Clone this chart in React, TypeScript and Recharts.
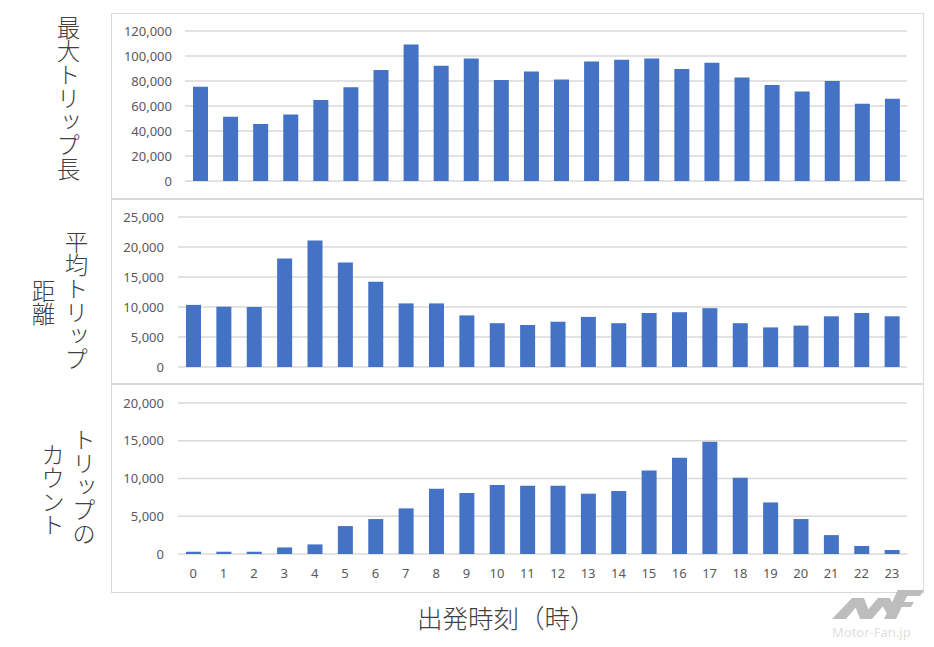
import React from 'react'
import { BarChart, Bar, XAxis, YAxis, CartesianGrid } from 'recharts'

// departure hour (0-23)
const hours = ['0', '1', '2', '3', '4', '5', '6', '7', '8', '9', '10', '11', '12', '13', '14', '15', '16', '17', '18', '19', '20', '21', '22', '23']

const maxTripLength = [75400, 51400, 45600, 53300, 64800, 75000, 88800, 109300, 92300, 98000, 80800, 87700, 81300, 95700, 97000, 98000, 89600, 94700, 82900, 76800, 71700, 80000, 61900, 65900]
const avgTripDistance = [10350, 10050, 10000, 18100, 21100, 17400, 14200, 10600, 10600, 8600, 7300, 7000, 7550, 8350, 7300, 9000, 9130, 9800, 7300, 6600, 6900, 8450, 9000, 8450]
const tripCount = [300, 300, 300, 870, 1270, 3700, 4630, 6040, 8650, 8080, 9140, 9050, 9050, 7990, 8340, 11070, 12750, 14870, 10100, 6830, 4630, 2500, 1060, 530]

const maxTicks = [0, 20000, 40000, 60000, 80000, 100000, 120000]
const avgTicks = [0, 5000, 10000, 15000, 20000, 25000]
const countTicks = [0, 5000, 10000, 15000, 20000]

const data = hours.map((h, i) => ({
  hour: h,
  max: maxTripLength[i],
  avg: avgTripDistance[i],
  count: tripCount[i],
}))

const BLUE = '#4472C4'
const GRID = '#d9d9d9'
const TICK = { fontSize: 13, fill: '#595959', fontFamily: '"Noto Sans", sans-serif' }
const JP = '"Noto Sans CJK JP", sans-serif'

const fmt = (v: number) => v.toLocaleString('en-US')

interface PanelProps {
  top: number
  height: number
  dataKey: string
  ticks: number[]
  yWidth: number
  tickMargin: number
  margin: { top: number; right: number; bottom: number; left: number }
  showX?: boolean
}

function Panel({ top, height, dataKey, ticks, yWidth, tickMargin, margin, showX }: PanelProps) {
  return (
    <div
      style={{
        position: 'absolute',
        left: 111,
        top,
        width: 813,
        height,
        border: `1px solid ${GRID}`,
        boxSizing: 'border-box',
        background: '#fff',
      }}
    >
      <BarChart width={811} height={height - 2} data={data} margin={margin}>
        <CartesianGrid vertical={false} stroke={GRID} strokeWidth={1.3} />
        <XAxis
          dataKey="hour"
          hide={!showX}
          axisLine={false}
          tickLine={false}
          tickSize={0}
          tickMargin={15}
          height={38}
          interval={0}
          tick={TICK}
        />
        <YAxis
          width={yWidth}
          domain={[ticks[0], ticks[ticks.length - 1]]}
          ticks={ticks}
          interval={0}
          axisLine={false}
          tickLine={false}
          tickSize={0}
          tickMargin={tickMargin}
          tickFormatter={fmt}
          tick={TICK}
        />
        <Bar dataKey={dataKey} fill={BLUE} barSize={15} isAnimationActive={false} />
      </BarChart>
    </div>
  )
}

function VLabel({ text, cx, top }: { text: string; cx: number; top: number }) {
  return (
    <div
      style={{
        position: 'absolute',
        left: cx - 12,
        top,
        width: 24,
        writingMode: 'vertical-rl',
        fontFamily: JP,
        fontSize: 23.5,
        lineHeight: '24px',
        fontWeight: 300,
        color: '#404040',
        whiteSpace: 'nowrap',
      }}
    >
      {text}
    </div>
  )
}

export default function App() {
  return (
    <div style={{ position: 'absolute', left: 0, top: 0, width: 934, height: 647, background: '#fff', overflow: 'hidden' }}>
      <Panel top={13} height={186} dataKey="max" ticks={maxTicks} yWidth={73} tickMargin={13}
        margin={{ top: 17, right: 16, bottom: 17, left: 0 }} />
      <Panel top={199} height={185} dataKey="avg" ticks={avgTicks} yWidth={66} tickMargin={14}
        margin={{ top: 17, right: 16, bottom: 16, left: 0 }} />
      <Panel top={384} height={209} dataKey="count" ticks={countTicks} yWidth={66} tickMargin={14} showX
        margin={{ top: 18, right: 16, bottom: 0, left: 0 }} />

      <VLabel text="最大トリップ長" cx={68.5} top={16} />
      <VLabel text="平均トリップ" cx={76.5} top={230} />
      <VLabel text="距離" cx={43.5} top={279} />
      <VLabel text="トリップの" cx={84} top={428} />
      <VLabel text="カウント" cx={53} top={443} />

      <div
        style={{
          position: 'absolute',
          left: 417,
          top: 602,
          fontFamily: JP,
          fontSize: 25.5,
          lineHeight: '30px',
          fontWeight: 300,
          color: '#404040',
          whiteSpace: 'nowrap',
        }}
      >
        出発時刻（時）
      </div>

      {/* watermark */}
      <svg style={{ position: 'absolute', left: 828, top: 584 }} width={100} height={40}>
        <g fill="#bdbdbd">
          <polygon points="4,35 18,35 36,14 24,14" />
          <polygon points="24,14 36,14 44,35 32,35" />
          <polygon points="32,35 44,35 62,14 50,14" />
          <polygon points="50,14 62,14 68,28 62,35" />
          <polygon points="56,35 68,35 82,6 70,6" />
          <polygon points="70,6 96,6 92,12 67,12" />
          <polygon points="66,18 86,18 83,23 63,23" />
        </g>
      </svg>
      <div
        style={{
          position: 'absolute',
          left: 832,
          top: 624,
          fontFamily: '"Noto Sans", sans-serif',
          fontSize: 13,
          lineHeight: '16px',
          color: '#e0e0e0',
          whiteSpace: 'nowrap',
        }}
      >
        Motor-Fan.jp
      </div>
    </div>
  )
}
